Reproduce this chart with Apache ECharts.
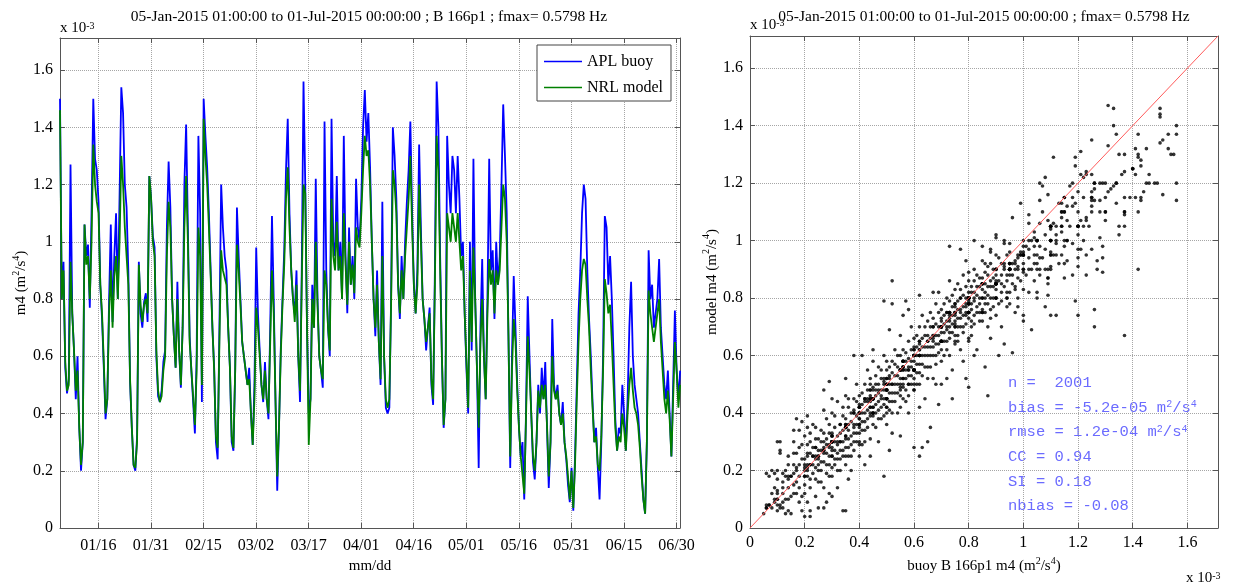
<!DOCTYPE html>
<html>
<head>
<meta charset="utf-8">
<script src="https://cdn.jsdelivr.net/npm/echarts@6.0.0/dist/echarts.min.js"></script>
<style>
html, body { margin: 0; padding: 0; background: #fff; }
#chart { width: 1249px; height: 584px; }
</style>
</head>
<body>
<div id="chart"></div>
<script>
// time axis in days since 01-Jan-2015, first sample 05-Jan-2015 01:00, one value every 12 h
const startDay = 4 + 1 / 24;
const stepDay = 0.5;
const endDay = 181;

// m4 in units of 1e-3 m^2/s^4
const buoyM4 = [
    1.50, 0.80, 0.93, 0.56, 0.47, 0.52, 1.27, 0.75, 0.62, 0.45,
    0.60, 0.35, 0.20, 0.30, 1.06, 0.95, 0.99, 0.77, 1.10, 1.50,
    1.29, 1.25, 1.14, 0.85, 0.73, 0.56, 0.38, 0.45, 0.79, 1.06,
    0.72, 0.95, 1.10, 0.80, 1.16, 1.54, 1.45, 1.20, 1.12, 0.90,
    0.51, 0.35, 0.22, 0.20, 0.32, 0.93, 0.75, 0.70, 0.79, 0.82,
    0.72, 1.23, 1.15, 1.02, 0.98, 0.60, 0.46, 0.44, 0.48, 0.58,
    0.62, 1.05, 1.28, 1.12, 0.80, 0.67, 0.56, 0.86, 0.62, 0.49,
    0.70, 1.20, 1.41, 1.05, 0.67, 0.55, 0.44, 0.33, 0.60, 1.37,
    1.10, 0.44, 1.50, 1.37, 1.26, 1.10, 0.90, 0.70, 0.56, 0.30,
    0.24, 0.70, 1.20, 1.05, 0.95, 0.90, 0.70, 0.56, 0.30, 0.27,
    0.55, 1.12, 0.95, 0.80, 0.65, 0.60, 0.55, 0.50, 0.56, 0.40,
    0.29, 0.50, 0.98, 0.75, 0.62, 0.50, 0.44, 0.58, 0.45, 0.38,
    0.70, 1.09, 0.80, 0.45, 0.13, 0.35, 0.62, 0.80, 0.97, 1.25,
    1.43, 1.10, 0.90, 0.80, 0.75, 0.90, 0.60, 0.44, 0.90, 1.56,
    1.20, 0.70, 0.40, 0.45, 0.85, 0.70, 1.22, 0.80, 0.60, 0.55,
    0.49, 1.42, 0.90, 0.70, 0.60, 1.43, 1.00, 0.95, 1.23, 0.90,
    1.00, 0.80, 1.37, 0.95, 0.75, 1.05, 0.85, 0.95, 0.80, 1.22,
    1.05, 1.00, 1.15, 1.40, 1.53, 1.35, 1.45, 1.26, 1.00, 0.80,
    0.67, 0.90, 0.65, 0.50, 1.14, 0.60, 0.42, 0.40, 0.42, 0.80,
    1.40, 1.30, 1.15, 0.85, 0.73, 0.95, 0.80, 1.00, 1.14, 1.25,
    1.42, 1.10, 0.85, 0.75, 0.90, 1.34, 1.05, 0.80, 0.73, 0.62,
    0.70, 0.77, 0.50, 0.43, 0.90, 1.56, 1.40, 0.95, 0.60, 0.35,
    0.45, 1.37, 1.20, 1.10, 1.30, 1.25, 1.10, 1.30, 1.15, 0.95,
    1.00, 0.75, 0.56, 0.40, 1.00, 0.62, 1.29, 0.80, 0.56, 0.21,
    0.70, 0.94, 0.60, 0.45, 0.80, 1.29, 0.90, 0.97, 0.73, 1.00,
    0.85, 0.95, 1.20, 1.48, 1.30, 1.10, 0.67, 0.21, 0.60, 0.88,
    0.70, 0.50, 0.35, 0.25, 0.30, 0.10, 0.40, 0.81, 0.60, 0.40,
    0.23, 0.17, 0.30, 0.50, 0.40, 0.56, 0.45, 0.58, 0.35, 0.14,
    0.30, 0.73, 0.50, 0.45, 0.50, 0.40, 0.36, 0.44, 0.30, 0.24,
    0.15, 0.09, 0.21, 0.06, 0.25, 0.50, 0.75, 0.90, 1.10, 1.20,
    1.15, 0.90, 0.73, 0.60, 0.44, 0.30, 0.35, 0.21, 0.10, 0.30,
    0.60, 1.09, 1.05, 0.85, 0.95, 0.80, 0.60, 0.38, 0.27, 0.35,
    0.33, 0.50, 0.40, 0.27, 0.45, 0.70, 0.86, 0.60, 0.50, 0.45,
    0.40, 0.30, 0.20, 0.10, 0.05, 0.30, 0.97, 0.80, 0.85, 0.70,
    0.75, 0.80, 0.94, 0.70, 0.60, 0.50, 0.45, 0.55, 0.40, 0.25,
    0.50, 0.76, 0.55, 0.45, 0.55
];

const modelM4 = [
    1.46, 0.80, 0.90, 0.58, 0.48, 0.50, 0.93, 0.75, 0.62, 0.48,
    0.55, 0.35, 0.22, 0.30, 1.06, 0.92, 0.95, 0.80, 1.00, 1.34,
    1.20, 1.14, 1.10, 0.85, 0.75, 0.58, 0.40, 0.45, 0.75, 0.90,
    0.70, 0.88, 0.95, 0.80, 1.00, 1.30, 1.20, 1.05, 0.95, 0.85,
    0.52, 0.35, 0.22, 0.21, 0.30, 0.92, 0.78, 0.72, 0.78, 0.80,
    0.75, 1.23, 1.15, 1.00, 0.95, 0.62, 0.48, 0.44, 0.46, 0.55,
    0.60, 0.95, 1.14, 1.05, 0.80, 0.67, 0.56, 0.80, 0.62, 0.50,
    0.70, 1.05, 1.23, 1.00, 0.65, 0.55, 0.46, 0.36, 0.55, 1.05,
    0.95, 0.50, 1.43, 1.30, 1.20, 1.05, 0.88, 0.70, 0.55, 0.32,
    0.28, 0.65, 0.97, 0.90, 0.90, 0.85, 0.70, 0.56, 0.32, 0.28,
    0.55, 0.99, 0.90, 0.78, 0.65, 0.60, 0.55, 0.50, 0.52, 0.40,
    0.29, 0.45, 0.77, 0.70, 0.60, 0.50, 0.45, 0.55, 0.45, 0.40,
    0.65, 0.90, 0.75, 0.45, 0.18, 0.35, 0.60, 0.78, 0.92, 1.15,
    1.26, 1.05, 0.90, 0.80, 0.72, 0.85, 0.60, 0.48, 0.85, 1.20,
    1.17, 0.70, 0.29, 0.45, 0.80, 0.70, 1.00, 0.78, 0.60, 0.55,
    0.52, 0.90, 0.85, 0.70, 0.62, 1.15, 0.95, 0.90, 1.07, 0.90,
    0.95, 0.80, 1.10, 0.92, 0.78, 1.00, 0.85, 0.92, 0.82, 1.05,
    1.00, 0.98, 1.10, 1.25, 1.37, 1.30, 1.32, 1.20, 1.00, 0.80,
    0.70, 0.85, 0.65, 0.52, 0.95, 0.60, 0.45, 0.42, 0.45, 0.78,
    1.25, 1.20, 1.10, 0.85, 0.75, 0.90, 0.80, 0.95, 1.05, 1.15,
    1.30, 1.05, 0.85, 0.75, 0.85, 1.20, 1.00, 0.80, 0.73, 0.65,
    0.70, 0.75, 0.52, 0.45, 0.85, 1.37, 1.25, 0.90, 0.60, 0.36,
    0.45, 1.10, 1.05, 1.00, 1.10, 1.10, 1.00, 1.10, 1.00, 0.90,
    0.95, 0.75, 0.58, 0.42, 0.90, 0.65, 0.98, 0.80, 0.56, 0.35,
    0.65, 0.80, 0.60, 0.45, 0.75, 0.94, 0.85, 0.90, 0.75, 0.90,
    0.85, 0.90, 1.05, 1.20, 1.15, 1.00, 0.67, 0.25, 0.55, 0.73,
    0.65, 0.48, 0.35, 0.25, 0.25, 0.12, 0.38, 0.67, 0.55, 0.40,
    0.25, 0.20, 0.30, 0.48, 0.42, 0.50, 0.45, 0.50, 0.36, 0.18,
    0.30, 0.60, 0.48, 0.45, 0.48, 0.40, 0.36, 0.40, 0.30, 0.25,
    0.18, 0.10, 0.20, 0.07, 0.22, 0.45, 0.65, 0.80, 0.90, 0.94,
    0.92, 0.80, 0.70, 0.55, 0.42, 0.30, 0.32, 0.22, 0.20, 0.32,
    0.55, 0.87, 0.82, 0.75, 0.78, 0.65, 0.50, 0.35, 0.27, 0.32,
    0.30, 0.40, 0.35, 0.27, 0.40, 0.50, 0.56, 0.48, 0.42, 0.40,
    0.36, 0.28, 0.18, 0.10, 0.05, 0.30, 0.83, 0.75, 0.75, 0.65,
    0.70, 0.75, 0.80, 0.65, 0.55, 0.45, 0.40, 0.48, 0.38, 0.25,
    0.45, 0.65, 0.55, 0.42, 0.50
];

const dateTickDays = [15, 30, 45, 60, 75, 90, 105, 120, 135, 150, 165, 180];
const dateTickLabels = ['01/16', '01/31', '02/15', '03/02', '03/17', '04/01', '04/16', '05/01', '05/16', '05/31', '06/15', '06/30'];

// extra buoy vs model m4 points (1e-3 m^2/s^4)
const scatterPairs = [
    // upper part / outliers
    [1.31,1.47],[1.33,1.46],[1.33,1.40],[1.34,1.37],[1.25,1.35],[1.11,1.29],[1.31,1.33],[1.50,1.44],[1.56,1.40],[1.51,1.35],
    [1.53,1.32],[1.55,1.30],[1.51,1.16],[1.56,1.14],[1.42,1.37],[1.41,1.32],[1.42,1.29],[1.43,1.28],[1.46,1.23],[1.46,1.20],
    [1.49,1.20],[1.44,1.17],[1.43,1.14],[1.42,1.10],[1.37,1.09],[1.35,1.02],[1.35,1.05],[1.30,1.07],[1.28,1.01],[1.25,0.97],
    [1.29,0.89],[1.27,0.90],[1.23,0.88],[1.41,1.15],[1.39,1.15],[1.37,1.15],[1.36,1.23],[1.37,1.24],[1.34,1.20],[1.33,1.19],
    [1.32,1.18],[1.31,1.17],[1.34,1.13],[1.28,1.20],[1.25,1.17],[1.26,1.14],[1.25,1.12],[1.23,1.08],[1.20,1.10],[1.21,1.07],
    [1.19,1.13],[1.18,1.15],[1.22,1.22],[1.23,1.24],[1.25,1.23],[1.19,1.26],[1.19,1.29],[1.21,1.31],[1.21,1.23],[1.18,1.20],
    [1.17,1.19],[1.15,1.15],[1.14,1.13],[1.16,1.12],[1.14,1.10],[1.16,1.07],[1.11,1.06],[1.14,1.05],[1.12,1.02],[1.10,1.04],
    [1.09,1.07],[1.07,1.10],[1.06,1.14],[1.07,1.19],[1.06,1.20],[1.13,1.13],[1.09,1.16],[1.14,1.03],[1.16,1.00],[1.18,0.99],
    [1.21,0.97],[1.23,0.95],[1.16,0.93],[1.20,0.91],[1.15,0.87],[1.18,0.88],[1.11,0.95],[1.10,0.91],[1.09,0.87],[1.04,1.03],
    [1.08,1.22],[0.99,1.13],[0.96,1.08],[0.95,0.99],[0.90,1.02],[0.90,1.01],[0.82,1.00],[0.73,0.98],[0.77,0.97],[0.85,0.98],
    [0.88,0.97],[0.93,1.00],[1.02,1.09],[1.02,1.06],[1.04,0.98],[0.99,0.95],[0.98,0.91],[0.52,0.86],
    // lower part / outliers
    [1.20,0.74],[1.26,0.76],[1.26,0.70],[1.37,0.67],[1.19,0.79],[1.12,0.74],[1.10,0.74],[1.08,0.77],[1.09,0.81],[1.03,0.69],
    [1.00,0.74],[0.96,0.61],[0.91,0.60],[0.93,0.64],[0.87,0.46],[0.80,0.49],[0.79,0.52],[0.74,0.45],[0.69,0.43],[0.65,0.30],
    [0.62,0.25],[0.63,0.28],[0.66,0.35],[0.60,0.28],[0.51,0.27],[0.49,0.18],[0.34,0.06],[0.35,0.06],[0.30,0.11],[0.28,0.09],
    [0.27,0.07],[0.22,0.04],[0.20,0.04],[0.15,0.05],[0.13,0.05],[0.11,0.07],[0.07,0.08],[0.06,0.08],[0.09,0.19],[0.11,0.30],
    [0.11,0.27],[0.16,0.34],[0.17,0.38],[0.19,0.37],[0.21,0.39],[0.24,0.35],[0.29,0.51],[0.27,0.48],[0.30,0.45],[0.35,0.52],
    [0.38,0.60],[0.41,0.60],[0.45,0.62],[0.55,0.67],[0.51,0.69],[0.49,0.79],[0.52,0.78],[0.57,0.79],[0.58,0.76],[0.56,0.74],
    [0.62,0.81],[0.67,0.82],
    // main band
    [0.06,0.07],[0.07,0.08],[0.08,0.07],[0.09,0.09],[0.10,0.10],[0.08,0.12],[0.07,0.18],[0.08,0.20],[0.10,0.06],[0.11,0.08],
    [0.12,0.12],[0.12,0.16],[0.13,0.20],[0.13,0.10],[0.14,0.14],[0.14,0.22],[0.10,0.30],[0.11,0.26],[0.15,0.18],[0.15,0.11],
    [0.09,0.14],[0.12,0.07],[0.14,0.06],[0.06,0.19],
    [0.16,0.22],[0.16,0.15],[0.17,0.12],[0.17,0.26],[0.18,0.18],[0.18,0.09],[0.19,0.24],[0.19,0.29],[0.19,0.11],[0.20,0.20],
    [0.20,0.15],[0.20,0.32],[0.21,0.26],[0.21,0.09],[0.21,0.18],[0.22,0.22],[0.22,0.30],[0.22,0.14],[0.23,0.25],[0.23,0.19],
    [0.23,0.36],[0.24,0.28],[0.24,0.11],[0.24,0.21],[0.25,0.24],[0.25,0.31],[0.25,0.16],[0.18,0.34],[0.16,0.30],[0.22,0.06],
    [0.19,0.06],[0.25,0.07],
    [0.26,0.27],[0.26,0.20],[0.26,0.34],[0.27,0.23],[0.27,0.30],[0.27,0.14],[0.28,0.26],[0.28,0.38],[0.28,0.19],[0.29,0.28],
    [0.29,0.22],[0.29,0.33],[0.30,0.25],[0.30,0.30],[0.30,0.18],[0.30,0.40],[0.31,0.27],[0.31,0.22],[0.31,0.35],[0.32,0.24],
    [0.32,0.29],[0.32,0.44],[0.33,0.27],[0.33,0.20],[0.33,0.33],[0.34,0.30],[0.34,0.25],[0.34,0.39],[0.35,0.28],[0.35,0.22],
    [0.35,0.35],[0.35,0.46],[0.29,0.12],[0.32,0.14],[0.27,0.41],
    [0.36,0.31],[0.36,0.25],[0.36,0.42],[0.37,0.29],[0.37,0.37],[0.37,0.20],[0.38,0.33],[0.38,0.45],[0.38,0.27],[0.39,0.36],
    [0.39,0.30],[0.39,0.50],[0.40,0.40],[0.40,0.33],[0.40,0.25],[0.40,0.46],[0.41,0.37],[0.41,0.43],[0.41,0.29],[0.42,0.40],
    [0.42,0.50],[0.42,0.34],[0.43,0.44],[0.43,0.38],[0.43,0.55],[0.44,0.42],[0.44,0.31],[0.44,0.48],[0.45,0.45],[0.45,0.39],
    [0.45,0.58],[0.36,0.17],[0.42,0.22],[0.44,0.25],
    [0.46,0.43],[0.46,0.50],[0.46,0.35],[0.47,0.47],[0.47,0.41],[0.47,0.56],[0.48,0.45],[0.48,0.52],[0.48,0.38],[0.49,0.48],
    [0.49,0.43],[0.49,0.60],[0.50,0.50],[0.50,0.45],[0.50,0.55],[0.50,0.36],[0.51,0.47],[0.51,0.53],[0.51,0.41],[0.52,0.50],
    [0.52,0.58],[0.52,0.44],[0.53,0.53],[0.53,0.47],[0.53,0.62],[0.54,0.50],[0.54,0.56],[0.54,0.40],[0.55,0.52],[0.55,0.60],
    [0.55,0.46],[0.47,0.30],[0.52,0.33],[0.55,0.32],
    [0.56,0.55],[0.56,0.49],[0.56,0.62],[0.57,0.52],[0.57,0.58],[0.57,0.44],[0.58,0.56],[0.58,0.65],[0.58,0.50],[0.59,0.58],
    [0.59,0.53],[0.59,0.70],[0.60,0.60],[0.60,0.55],[0.60,0.48],[0.60,0.66],[0.61,0.57],[0.61,0.63],[0.61,0.50],[0.62,0.60],
    [0.62,0.70],[0.62,0.54],[0.63,0.63],[0.63,0.57],[0.63,0.74],[0.64,0.60],[0.64,0.67],[0.64,0.45],[0.65,0.63],[0.65,0.56],
    [0.65,0.72],[0.58,0.40],[0.62,0.42],
    [0.66,0.66],[0.66,0.60],[0.66,0.75],[0.67,0.63],[0.67,0.70],[0.67,0.52],[0.68,0.67],[0.68,0.78],[0.68,0.60],[0.69,0.70],
    [0.69,0.64],[0.69,0.82],[0.70,0.70],[0.70,0.65],[0.70,0.58],[0.70,0.76],[0.71,0.68],[0.71,0.74],[0.71,0.60],[0.72,0.72],
    [0.72,0.80],[0.72,0.65],[0.73,0.74],[0.73,0.68],[0.73,0.86],[0.74,0.71],[0.74,0.77],[0.74,0.55],[0.75,0.74],[0.75,0.67],
    [0.75,0.83],[0.68,0.50],[0.72,0.52],
    [0.76,0.76],[0.76,0.70],[0.76,0.85],[0.77,0.73],[0.77,0.80],[0.77,0.62],[0.78,0.77],[0.78,0.88],[0.78,0.68],[0.79,0.80],
    [0.79,0.74],[0.79,0.93],[0.80,0.80],[0.80,0.75],[0.80,0.66],[0.80,0.86],[0.81,0.78],[0.81,0.84],[0.81,0.70],[0.82,0.82],
    [0.82,0.90],[0.82,0.74],[0.83,0.84],[0.83,0.77],[0.83,0.62],[0.84,0.80],[0.84,0.87],[0.84,0.72],[0.85,0.83],[0.85,0.76],
    [0.85,0.93],[0.78,0.58],[0.82,0.60],
    [0.86,0.85],[0.86,0.78],[0.86,0.92],[0.87,0.81],[0.87,0.88],[0.87,0.70],[0.88,0.84],[0.88,0.96],[0.88,0.76],[0.89,0.87],
    [0.89,0.80],[0.90,0.90],[0.90,0.83],[0.90,0.74],[0.91,0.86],[0.91,0.94],[0.91,0.78],[0.92,0.88],[0.92,0.82],[0.93,0.91],
    [0.93,0.84],[0.93,0.99],[0.94,0.86],[0.94,0.77],[0.95,0.90],[0.95,0.82],[0.95,0.96],[0.88,0.66],[0.92,0.70],
    [0.96,0.88],[0.97,0.93],[0.97,0.84],[0.98,0.90],[0.98,0.80],[0.99,0.96],[0.99,0.86],[1.00,0.92],[1.00,0.83],[1.01,0.98],
    [1.01,0.88],[1.02,0.94],[1.02,0.82],[1.03,0.90],[1.03,1.00],[1.04,0.86],[1.04,0.95],[1.05,0.92],[1.05,0.80],[1.06,0.98],
    [1.06,0.88],[1.07,0.94],[1.08,0.90],[1.08,1.02],[1.09,0.85],[1.10,0.96],[1.10,1.05],[0.97,0.75],[1.00,0.72],
    [1.12,1.00],[1.13,0.92],[1.14,1.08],[1.15,0.98],[1.17,1.05],[1.18,1.12],[1.20,1.02],[1.22,1.15],[1.24,1.05],[1.26,1.18],
    [1.28,1.10],
    // dense core
    [0.10,0.13],[0.10,0.17],[0.10,0.08],[0.12,0.19],[0.12,0.09],[0.12,0.14],[0.14,0.17],[0.14,0.10],[0.14,0.25],[0.16,0.19],
    [0.16,0.12],[0.16,0.26],[0.17,0.16],[0.17,0.21],[0.18,0.22],[0.18,0.14],[0.18,0.28],[0.20,0.24],[0.20,0.18],[0.20,0.12],
    [0.21,0.21],[0.21,0.29],[0.22,0.26],[0.22,0.17],[0.22,0.33],[0.23,0.22],[0.23,0.28],[0.24,0.24],[0.24,0.31],[0.24,0.17],
    [0.25,0.27],[0.25,0.20],[0.26,0.23],[0.26,0.30],[0.26,0.16],[0.27,0.26],[0.27,0.33],[0.28,0.22],[0.28,0.29],[0.28,0.31],
    [0.29,0.25],[0.29,0.36],[0.29,0.18],[0.30,0.27],[0.30,0.21],[0.30,0.33],[0.31,0.30],[0.31,0.24],[0.31,0.39],[0.32,0.26],
    [0.32,0.32],[0.32,0.20],[0.33,0.30],[0.33,0.36],[0.33,0.24],[0.34,0.27],[0.34,0.34],[0.34,0.42],[0.35,0.31],[0.35,0.25],
    [0.35,0.38],[0.36,0.34],[0.36,0.28],[0.36,0.45],[0.37,0.32],[0.37,0.40],[0.37,0.25],[0.38,0.36],[0.38,0.30],[0.38,0.41],
    [0.39,0.33],[0.39,0.39],[0.39,0.44],[0.40,0.36],[0.40,0.43],[0.40,0.30],[0.41,0.40],[0.41,0.34],[0.41,0.47],[0.42,0.37],
    [0.42,0.44],[0.42,0.30],[0.43,0.41],[0.43,0.35],[0.43,0.48],[0.44,0.39],[0.44,0.45],[0.44,0.52],[0.45,0.42],[0.45,0.36],
    [0.45,0.49],[0.46,0.46],[0.46,0.40],[0.46,0.53],[0.47,0.44],[0.47,0.50],[0.47,0.38],[0.48,0.48],[0.48,0.42],[0.48,0.55],
    [0.49,0.45],[0.49,0.51],[0.49,0.39],[0.50,0.48],[0.50,0.42],[0.50,0.58],[0.51,0.50],[0.51,0.44],[0.51,0.56],[0.52,0.47],
    [0.52,0.54],[0.52,0.40],[0.53,0.50],[0.53,0.57],[0.53,0.44],[0.54,0.53],[0.54,0.47],[0.54,0.60],[0.55,0.55],[0.55,0.49],
    [0.55,0.42],[0.56,0.52],[0.56,0.58],[0.56,0.45],[0.57,0.55],[0.57,0.61],[0.57,0.48],[0.58,0.53],[0.58,0.59],[0.58,0.46],
    [0.59,0.56],[0.59,0.62],[0.59,0.50],[0.60,0.58],[0.60,0.52],[0.60,0.63],[0.61,0.60],[0.61,0.54],[0.61,0.67],[0.62,0.57],
    [0.62,0.64],[0.62,0.50],[0.63,0.60],[0.63,0.66],[0.63,0.53],[0.64,0.63],[0.64,0.56],[0.64,0.70],[0.65,0.60],[0.65,0.67],
    [0.65,0.52],[0.66,0.63],[0.66,0.70],[0.66,0.56],[0.67,0.66],[0.67,0.60],[0.67,0.73],[0.68,0.64],[0.68,0.71],[0.68,0.57],
    [0.69,0.67],[0.69,0.61],[0.69,0.75],[0.70,0.68],[0.70,0.73],[0.70,0.62],[0.71,0.71],[0.71,0.65],[0.71,0.78],[0.72,0.69],
    [0.72,0.75],[0.72,0.62],[0.73,0.72],[0.73,0.66],[0.73,0.79],[0.74,0.74],[0.74,0.68],[0.74,0.81],[0.75,0.71],[0.75,0.77],
    [0.75,0.64],[0.76,0.73],[0.76,0.79],[0.76,0.67],[0.77,0.76],[0.77,0.70],[0.77,0.83],[0.78,0.74],[0.78,0.81],[0.78,0.70],
    [0.79,0.77],[0.79,0.71],[0.79,0.84],[0.80,0.79],[0.80,0.73],[0.80,0.89],[0.81,0.76],[0.81,0.82],[0.81,0.72],[0.82,0.79],
    [0.82,0.86],[0.82,0.71],[0.83,0.81],[0.83,0.75],[0.83,0.88],[0.84,0.78],[0.84,0.84],[0.84,0.75],[0.85,0.80],[0.85,0.87],
    [0.85,0.72],[0.86,0.82],[0.86,0.89],[0.86,0.75],[0.87,0.84],[0.87,0.78],[0.87,0.91],[0.88,0.86],[0.88,0.80],[0.88,0.92],
    [0.89,0.84],[0.89,0.90],[0.89,0.77],[0.90,0.86],[0.90,0.80],[0.90,0.95],[0.92,0.85],[0.92,0.92],[0.92,0.79],[0.94,0.88],
    [0.94,0.95],[0.94,0.82],[0.96,0.92],[0.96,0.85],[0.98,0.94],[0.98,0.87],[1.00,0.96],[1.00,0.89],[1.02,0.90],[1.02,0.97],
    [1.04,0.92],[1.04,1.01],[1.06,0.94],[1.08,0.97]
];

const statLines = [
    'n =  2001',
    'bias = -5.2e-05 m{s|2}/s{s|4}',
    'rmse = 1.2e-04 m{s|2}/s{s|4}',
    'CC = 0.94',
    'SI = 0.18',
    'nbias = -0.08'
];

const axisMax = 1.712;
const serif = 'Liberation Serif';
const frameColor = '#555';
const gridColor = '#a6a6a6';

// collocated buoy/model samples from the time series plus the points
const scatterData = buoyM4.map((b, i) => [b, modelM4[i]]).concat(scatterPairs);

function tickFmt(v) {
    const r = Math.round(v * 5) / 5;
    return Math.abs(v - r) < 1e-6 ? String(Math.round(v * 10) / 10) : '';
}

const supRich = {
    a: { fontFamily: serif, fontSize: 15, color: '#000', lineHeight: 20 },
    s: { fontFamily: serif, fontSize: 10, color: '#000', verticalAlign: 'top', lineHeight: 20 }
};

function valueAxis(pos, gridIndex, withLabels, name, nameGap) {
    return {
        type: 'value',
        gridIndex: gridIndex,
        position: pos,
        min: 0,
        max: axisMax,
        interval: 0.2,
        name: name || '',
        nameLocation: 'middle',
        nameGap: nameGap || 0,
        nameRotate: (pos === 'left') ? 90 : 0,
        nameTextStyle: { rich: supRich },
        axisLine: { show: true, onZero: false, lineStyle: { color: frameColor, width: 1 } },
        axisTick: { show: true, inside: true, length: 5, lineStyle: { color: frameColor } },
        axisLabel: {
            show: withLabels,
            formatter: tickFmt,
            showMaxLabel: false,
            margin: 7,
            fontFamily: serif,
            fontSize: 16,
            color: '#000'
        },
        splitLine: {
            show: withLabels,
            lineStyle: { color: gridColor, type: 'dotted', width: 1 }
        }
    };
}

function dateAxis(pos, withLabels) {
    return {
        type: 'value',
        gridIndex: 0,
        position: pos,
        min: startDay,
        max: endDay,
        name: withLabels ? 'mm/dd' : '',
        nameLocation: 'middle',
        nameGap: 31,
        nameTextStyle: { fontFamily: serif, fontSize: 15, color: '#000' },
        axisLine: { show: true, onZero: false, lineStyle: { color: frameColor, width: 1 } },
        axisTick: { show: true, inside: true, length: 5, customValues: dateTickDays, lineStyle: { color: frameColor } },
        axisLabel: {
            show: withLabels,
            customValues: dateTickDays,
            formatter: v => dateTickLabels[dateTickDays.indexOf(Math.round(v))] || '',
            margin: 10,
            fontFamily: serif,
            fontSize: 16,
            color: '#000'
        },
        splitLine: {
            show: withLabels,
            lineStyle: { color: gridColor, type: 'dotted', width: 1 }
        }
    };
}

const myChart = echarts.init(document.getElementById('chart'));

const option = {
    backgroundColor: '#fff',
    animation: false,
    grid: [
        { left: 60, top: 38, width: 620, height: 490 },
        { left: 750, top: 36, width: 468, height: 492 }
    ],
    legend: {
        data: ['APL buoy', 'NRL model'],
        left: 537,
        top: 45,
        orient: 'vertical',
        icon: 'rect',
        itemWidth: 38,
        itemHeight: 1.5,
        itemGap: 9,
        padding: [8, 8, 5, 7],
        backgroundColor: '#fff',
        borderColor: '#444',
        borderWidth: 1,
        borderRadius: 0,
        textStyle: { fontFamily: serif, fontSize: 16, color: '#000', lineHeight: 17 }
    },
    xAxis: [
        dateAxis('bottom', true),
        dateAxis('top', false),
        valueAxis('bottom', 1, true, '{a|buoy B 166p1 m4 (m}{s|2}{a|/s}{s|4}{a|)}', 28),
        valueAxis('top', 1, false)
    ],
    yAxis: [
        valueAxis('left', 0, true, '{a|m4 (m}{s|2}{a|/s}{s|4}{a|)}', 29),
        valueAxis('right', 0, false),
        valueAxis('left', 1, true, '{a|model m4 (m}{s|2}{a|/s}{s|4}{a|)}', 28),
        valueAxis('right', 1, false)
    ],
    series: [
        {
            name: 'APL buoy',
            type: 'line',
            xAxisIndex: 0,
            yAxisIndex: 0,
            symbol: 'none',
            data: buoyM4.map((v, i) => [startDay + i * stepDay, v]),
            lineStyle: { color: '#0000ff', width: 1.8 },
            itemStyle: { color: '#0000ff' }
        },
        {
            name: 'NRL model',
            type: 'line',
            xAxisIndex: 0,
            yAxisIndex: 0,
            symbol: 'none',
            data: modelM4.map((v, i) => [startDay + i * stepDay, v]),
            lineStyle: { color: '#008000', width: 1.8 },
            itemStyle: { color: '#008000' }
        },
        {
            name: 'pairs',
            type: 'scatter',
            xAxisIndex: 2,
            yAxisIndex: 2,
            symbol: 'circle',
            symbolSize: 3.6,
            data: scatterData,
            itemStyle: { color: '#000' }
        },
        {
            name: '1:1',
            type: 'line',
            xAxisIndex: 2,
            yAxisIndex: 2,
            symbol: 'none',
            data: [[0, 0], [axisMax, axisMax]],
            lineStyle: { color: '#ff5a5a', width: 1 },
            z: 5
        }
    ],
    graphic: [
        {
            type: 'text', x: 369, y: 17,
            style: {
                text: '05-Jan-2015 01:00:00 to 01-Jul-2015 00:00:00 ; B 166p1 ; fmax= 0.5798 Hz',
                fontFamily: serif, fontSize: 15.5, fill: '#000',
                align: 'center', verticalAlign: 'middle'
            }
        },
        {
            type: 'text', x: 984, y: 17,
            style: {
                text: '05-Jan-2015 01:00:00 to 01-Jul-2015 00:00:00 ; fmax= 0.5798 Hz',
                fontFamily: serif, fontSize: 15.5, fill: '#000',
                align: 'center', verticalAlign: 'middle'
            }
        },
        {
            type: 'text', x: 60, y: 21,
            style: {
                text: 'x 10{s|-3}', fontFamily: serif, fontSize: 15, fill: '#000',
                rich: { s: { fontFamily: serif, fontSize: 10, fill: '#000', verticalAlign: 'top' } }
            }
        },
        {
            type: 'text', x: 750, y: 18,
            style: {
                text: 'x 10{s|-3}', fontFamily: serif, fontSize: 15, fill: '#000',
                rich: { s: { fontFamily: serif, fontSize: 10, fill: '#000', verticalAlign: 'top' } }
            }
        },
        {
            type: 'text', x: 1186, y: 571,
            style: {
                text: 'x 10{s|-3}', fontFamily: serif, fontSize: 15, fill: '#000',
                rich: { s: { fontFamily: serif, fontSize: 10, fill: '#000', verticalAlign: 'top' } }
            }
        },
        {
            type: 'group', left: 1008, top: 375,
            children: statLines.map((t, i) => ({
                type: 'text', x: 0, y: i * 24.6,
                style: {
                    text: t, fontFamily: 'Liberation Mono', fontSize: 15.5, fill: '#6b6bff',
                    rich: { s: { fontFamily: 'Liberation Mono', fontSize: 10, fill: '#6b6bff', verticalAlign: 'top' } }
                }
            }))
        }
    ]
};

option && myChart.setOption(option);
</script>
</body>
</html>
